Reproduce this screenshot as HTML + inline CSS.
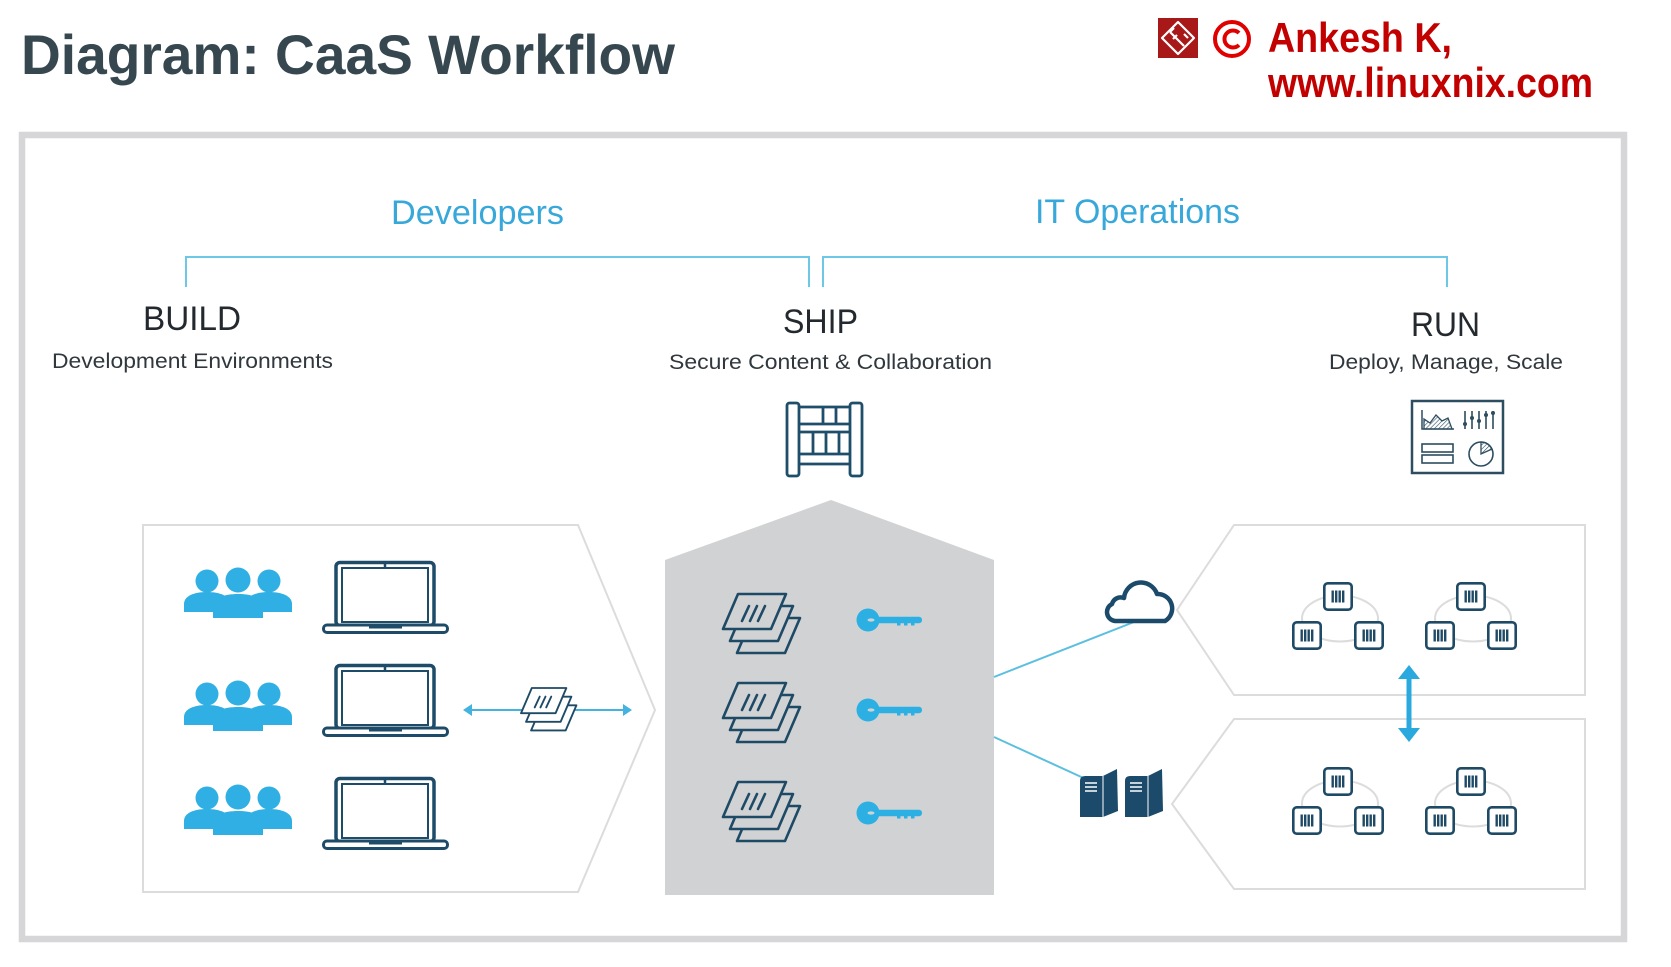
<!DOCTYPE html>
<html>
<head>
<meta charset="utf-8">
<style>
  html,body{margin:0;padding:0;background:#fff;}
  svg{display:block;}
  text{font-family:"Liberation Sans",Arial,sans-serif;}
</style>
</head>
<body>
<svg width="1671" height="967" viewBox="0 0 1671 967" xmlns="http://www.w3.org/2000/svg">
  <defs>
    <pattern id="hatch" width="3" height="3" patternUnits="userSpaceOnUse" patternTransform="rotate(45)">
      <line x1="0" y1="0" x2="0" y2="3" stroke="#2d4d61" stroke-width="1.2"/>
    </pattern>
    <!-- stack of sheets -->
    <g id="stack" stroke="#1e4a66" stroke-width="2.6" stroke-linejoin="round" stroke-linecap="round">
      <polygon points="29,24 77,24 62,59 14,59"/>
      <polygon points="22,12 70,12 55,47 7,47"/>
      <polygon points="15,0 63,0 48,35 0,35"/>
      <path d="M19,27 L26,12 M27,27 L34,12 M35,27 L42,12" fill="none"/>
    </g>
    <!-- key -->
    <g id="key" fill="#2cb0e4">
      <circle cx="11" cy="0" r="11.5"/>
      <rect x="18" y="-3.2" width="47" height="6.4" rx="3"/>
      <rect x="40" y="-1" width="3.5" height="6.5"/>
      <rect x="47" y="-1" width="3.5" height="6.5"/>
      <rect x="54" y="-1" width="3.5" height="6.5"/>
      <ellipse cx="14" cy="0" rx="3.5" ry="1.6" fill="#d1d2d4"/>
    </g>
    <!-- laptop -->
    <g id="laptop" stroke="#1d4b68" fill="#fff">
      <rect x="14" y="1.5" width="98" height="63" rx="4" stroke-width="3.5"/>
      <rect x="20" y="7" width="86" height="54" stroke-width="2"/>
      <line x1="63" y1="2" x2="63" y2="7" stroke-width="2.5"/>
      <rect x="1.5" y="64" width="124" height="7.5" rx="3.5" stroke-width="3"/>
      <rect x="47" y="64" width="33" height="3.5" fill="#1d4b68" stroke="none"/>
    </g>
    <!-- people -->
    <g id="people" fill="#2fafe3">
      <circle cx="-31" cy="13" r="11.5"/>
      <circle cx="31" cy="13" r="11.5"/>
      <path d="M-54,44 V36 C-54,28 -44,24 -31,24 C-18,24 -8,28 -8,36 V44 Z"/>
      <path d="M8,44 V36 C8,28 18,24 31,24 C44,24 54,28 54,36 V44 Z"/>
      <circle cx="0" cy="12" r="12.5"/>
      <path d="M-25,50 V38 C-25,30 -14,26 0,26 C14,26 25,30 25,38 V50 Z"/>
    </g>
    <!-- container box -->
    <g id="cbox">
      <rect x="1.3" y="1.3" width="27.4" height="26.4" rx="3.5" fill="#fff" stroke="#1e4a66" stroke-width="2.6"/>
      <g fill="#1e4a66">
        <rect x="8.5" y="8.5" width="2.4" height="12"/>
        <rect x="12" y="8.5" width="2.4" height="12"/>
        <rect x="15.5" y="8.5" width="2.4" height="12"/>
        <rect x="19" y="8.5" width="2.4" height="12"/>
      </g>
    </g>
    <g id="cluster">
      <ellipse cx="17" cy="36.5" rx="38" ry="23" fill="none" stroke="#dcdcdc" stroke-width="2"/>
      <use href="#cbox" x="0" y="0"/>
      <use href="#cbox" x="-31" y="39"/>
      <use href="#cbox" x="31" y="39"/>
    </g>
    <!-- server -->
    <g id="server">
      <path d="M0,41 V5 Q0,0 5,0 H23 V41 Z" fill="#1c4a6a"/>
      <polygon points="23,0 37,-7 38,35 23,41" fill="#1c4a6a"/>
      <line x1="23" y1="0" x2="23" y2="41" stroke="#fff" stroke-width="1"/>
      <path d="M5,7 H17 M5,11 H17 M5,15 H17" stroke="#fff" stroke-width="1.5"/>
    </g>
  </defs>

  <!-- Title -->
  <text x="21" y="74" font-size="56" font-weight="bold" fill="#37474f" textLength="654" lengthAdjust="spacingAndGlyphs">Diagram: CaaS Workflow</text>

  <!-- Logo / copyright -->
  <rect x="1158" y="18" width="40" height="40" fill="#a81818"/>
  <g stroke="#fff" stroke-width="2.2" fill="none" stroke-linejoin="round">
    <path d="M1178,22 L1194,38 L1178,54 L1162,38 Z"/>
    <path d="M1170,32 L1184,46 M1174,28 L1170,32 M1177,35 L1173,39 M1184,34 L1188,38"/>
  </g>
  <circle cx="1232" cy="39" r="17" fill="none" stroke="#e00000" stroke-width="4"/>
  <path d="M1239,33 A8.5,8.5 0 1 0 1239,45" fill="none" stroke="#e00000" stroke-width="4"/>
  <text x="1268" y="52" font-size="42" font-weight="bold" fill="#c20000" textLength="184" lengthAdjust="spacingAndGlyphs">Ankesh K,</text>
  <text x="1268" y="97" font-size="42" font-weight="bold" fill="#c20000" textLength="325" lengthAdjust="spacingAndGlyphs">www.linuxnix.com</text>

  <!-- Frame -->
  <rect x="22" y="135" width="1602" height="804" fill="#fff" stroke="#d6d6d8" stroke-width="6.5"/>

  <!-- Group labels -->
  <text x="391" y="224" font-size="34" fill="#38a8db" textLength="173" lengthAdjust="spacingAndGlyphs">Developers</text>
  <text x="1035" y="223" font-size="34" fill="#38a8db" textLength="205" lengthAdjust="spacingAndGlyphs">IT Operations</text>

  <!-- Brackets -->
  <g stroke="#6cc8e6" stroke-width="2" fill="none">
    <path d="M186,287 V257 H809 V287"/>
    <path d="M823,287 V257 H1447 V287"/>
  </g>

  <!-- Stage headings -->
  <text x="143" y="330" font-size="34" fill="#23292e" textLength="98" lengthAdjust="spacingAndGlyphs">BUILD</text>
  <text x="783" y="333" font-size="34" fill="#23292e" textLength="75" lengthAdjust="spacingAndGlyphs">SHIP</text>
  <text x="1411" y="336" font-size="34" fill="#23292e" textLength="69" lengthAdjust="spacingAndGlyphs">RUN</text>

  <text x="52" y="368" font-size="21" fill="#30383d" textLength="281" lengthAdjust="spacingAndGlyphs">Development Environments</text>
  <text x="669" y="369" font-size="21" fill="#30383d" textLength="323" lengthAdjust="spacingAndGlyphs">Secure Content &amp; Collaboration</text>
  <text x="1329" y="369" font-size="21" fill="#30383d" textLength="234" lengthAdjust="spacingAndGlyphs">Deploy, Manage, Scale</text>

  <!-- Ship rack icon -->
  <g stroke="#1f4e6b" stroke-width="2.8" fill="none" stroke-linejoin="round">
    <rect x="787" y="403" width="12" height="73" rx="2.5"/>
    <rect x="850" y="403" width="12" height="73" rx="2.5"/>
    <path d="M799,407 H850 M799,424 H850 M823,407 V424 M836,407 V424"/>
    <path d="M799,432 H850 M799,454 H850 M813,432 V454 M826,432 V454 M839,432 V454"/>
    <path d="M799,464 H850"/>
  </g>

  <!-- Run dashboard icon -->
  <g stroke="#2d4d61" fill="none">
    <rect x="1412" y="401" width="91" height="72" stroke-width="2.5"/>
    <path d="M1422,410 V429 H1454" stroke-width="1.5"/>
    <polygon points="1424,429 1424,419 1430,423 1436,415 1442,421 1448,418 1452,429" fill="url(#hatch)" stroke-width="1.3"/>
    <path d="M1465,411 V429 M1472,411 V429 M1479,411 V429 M1486,411 V429 M1493,411 V429" stroke-width="1.6"/>
    <g fill="#2d4d61" stroke="none">
      <circle cx="1465" cy="424" r="2"/>
      <circle cx="1472" cy="418" r="2"/>
      <circle cx="1479" cy="421" r="2"/>
      <circle cx="1486" cy="415" r="2"/>
      <circle cx="1493" cy="413" r="2"/>
    </g>
    <rect x="1422" y="444" width="31" height="8" stroke-width="1.6"/>
    <rect x="1422" y="455" width="31" height="8" stroke-width="1.6"/>
    <circle cx="1481" cy="454" r="12" stroke-width="1.6"/>
    <path d="M1481,454 L1481,442 A12,12 0 0 1 1492,449 Z" fill="url(#hatch)" stroke-width="1.3"/>
  </g>

  <!-- Build panel -->
  <polygon points="143,525 578,525 655,710 578,892 143,892" fill="#fff" stroke="#dcdcdc" stroke-width="2"/>
  <use href="#people" x="238" y="568"/>
  <use href="#people" x="238" y="681"/>
  <use href="#people" x="238" y="785"/>
  <use href="#laptop" x="322" y="561"/>
  <use href="#laptop" x="322" y="664"/>
  <use href="#laptop" x="322" y="777"/>
  <!-- build arrow -->
  <line x1="466" y1="710" x2="629" y2="710" stroke="#45b3e0" stroke-width="2"/>
  <polygon points="463,710 472,704 472,716" fill="#45b3e0"/>
  <polygon points="632,710 623,704 623,716" fill="#45b3e0"/>
  <g transform="translate(521,688) scale(0.72)">
    <use href="#stack" fill="#fff"/>
  </g>

  <!-- Ship house -->
  <polygon points="665,560 831,500 994,560 994,895 665,895" fill="#d1d2d4"/>
  <use href="#stack" x="723" y="594" fill="#d1d2d4"/>
  <use href="#stack" x="723" y="683" fill="#d1d2d4"/>
  <use href="#stack" x="723" y="782" fill="#d1d2d4"/>
  <use href="#key" x="857" y="620"/>
  <use href="#key" x="857" y="710"/>
  <use href="#key" x="857" y="813"/>

  <!-- connectors -->
  <line x1="994" y1="677" x2="1134" y2="622" stroke="#5bbfe0" stroke-width="2"/>
  <line x1="994" y1="737" x2="1090" y2="781" stroke="#5bbfe0" stroke-width="2"/>

  <!-- Run panels -->
  <polygon points="1234,525 1585,525 1585,695 1234,695 1177,610" fill="#fff" stroke="#dcdcdc" stroke-width="2"/>
  <polygon points="1234,719 1585,719 1585,889 1234,889 1172,804" fill="#fff" stroke="#dcdcdc" stroke-width="2"/>

  <!-- cloud -->
  <path d="M1115,621 A9,9 0 0 1 1112,604 A9,9 0 0 1 1124,598 A17,17 0 0 1 1157,594 A14.5,14.5 0 0 1 1165,621 Z" fill="#fff" stroke="#1c4a6a" stroke-width="4.5" stroke-linejoin="round"/>

  <!-- servers -->
  <use href="#server" x="1080" y="776"/>
  <use href="#server" x="1125" y="776"/>

  <!-- clusters -->
  <use href="#cluster" x="1323" y="582"/>
  <use href="#cluster" x="1456" y="582"/>
  <use href="#cluster" x="1323" y="767"/>
  <use href="#cluster" x="1456" y="767"/>

  <!-- vertical double arrow -->
  <g fill="#2aa9df">
    <polygon points="1409,665 1420,679 1398,679"/>
    <rect x="1406.5" y="678" width="5" height="51"/>
    <polygon points="1398,728 1420,728 1409,742"/>
  </g>
</svg>
</body>
</html>
